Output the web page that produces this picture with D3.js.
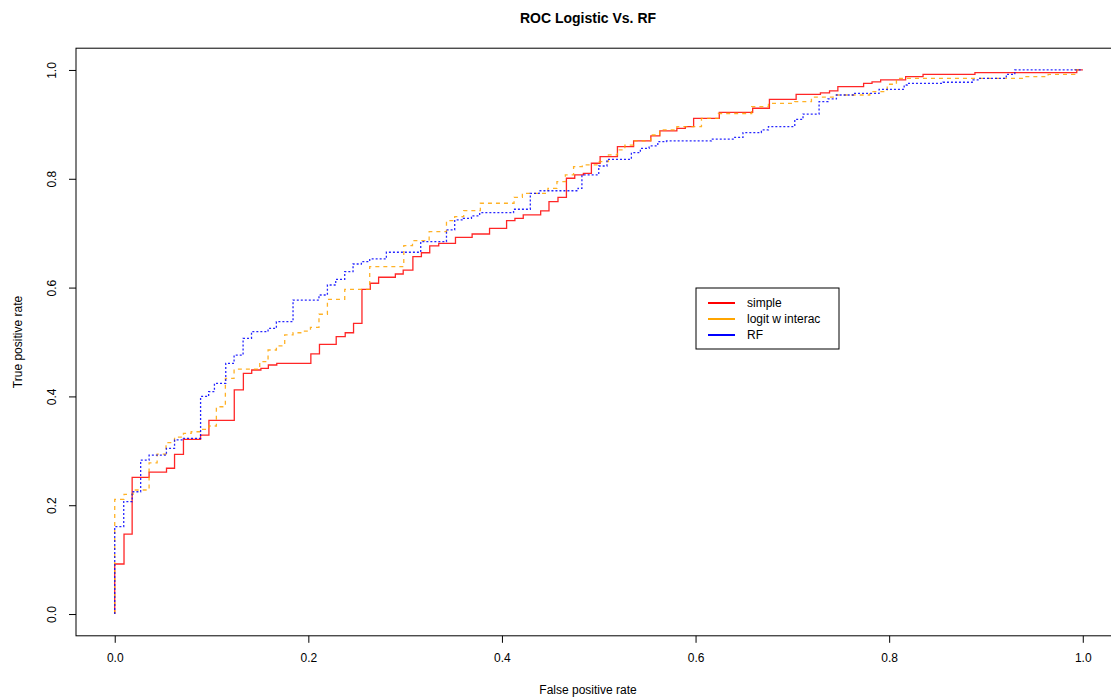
<!DOCTYPE html>
<html>
<head>
<meta charset="utf-8">
<script src="https://cdn.jsdelivr.net/npm/d3@7"></script>
<style>
  body { margin: 0; background: #fff; }
  svg text { font-family: "Liberation Sans", Arial, sans-serif; }
</style>
</head>
<body>
<svg width="1111" height="698"></svg>
<script>
// ROC curves, points are [fpr, tpr]
var simple = [[0,0],[0,0.092],[0.0096,0.147],[0.018,0.251],[0.0355,0.261],[0.0535,0.268],[0.0618,0.2935],[0.071,0.321],[0.0887,0.329],[0.0973,0.356],[0.1235,0.412],[0.1329,0.4425],[0.1415,0.4485],[0.151,0.4515],[0.1587,0.4577],[0.1674,0.4608],[0.2026,0.478],[0.2115,0.4957],[0.2288,0.5098],[0.2381,0.517],[0.2467,0.5343],[0.2554,0.5968],[0.264,0.608],[0.2726,0.619],[0.2899,0.625],[0.298,0.632],[0.308,0.657],[0.3168,0.664],[0.3254,0.6765],[0.3347,0.6814],[0.352,0.6924],[0.3692,0.6985],[0.3872,0.709],[0.4048,0.723],[0.4134,0.7273],[0.422,0.7335],[0.44,0.741],[0.4486,0.758],[0.4579,0.766],[0.4666,0.801],[0.4752,0.807],[0.4841,0.81],[0.4924,0.8285],[0.5014,0.8406],[0.5193,0.859],[0.536,0.8695],[0.5538,0.8787],[0.5631,0.8879],[0.5807,0.8928],[0.5894,0.8958],[0.598,0.911],[0.6245,0.9222],[0.659,0.9296],[0.6763,0.946],[0.7039,0.9553],[0.729,0.958],[0.7384,0.9614],[0.747,0.9693],[0.7736,0.9755],[0.7823,0.978],[0.7912,0.9816],[0.817,0.9877],[0.835,0.992],[0.8886,0.995],[0.9938,1.0],[1,1]];

var interac = [[0,0],[0,0.2108],[0.0096,0.22],[0.019,0.228],[0.0355,0.278],[0.0438,0.294],[0.053,0.315],[0.0618,0.325],[0.071,0.332],[0.079,0.335],[0.0887,0.3395],[0.0973,0.3456],[0.105,0.381],[0.1143,0.433],[0.1233,0.45],[0.1498,0.4638],[0.1584,0.4853],[0.167,0.493],[0.1756,0.513],[0.1842,0.517],[0.1939,0.52],[0.2022,0.527],[0.211,0.551],[0.2197,0.5785],[0.2376,0.5968],[0.2634,0.6385],[0.2986,0.677],[0.3076,0.6862],[0.3248,0.7028],[0.3427,0.723],[0.3512,0.7303],[0.3605,0.7414],[0.3777,0.755],[0.4125,0.766],[0.4211,0.7733],[0.4475,0.7825],[0.4568,0.7947],[0.4655,0.807],[0.474,0.8223],[0.483,0.8254],[0.5006,0.8315],[0.51,0.8438],[0.5193,0.853],[0.527,0.862],[0.536,0.8695],[0.5537,0.8805],[0.563,0.8897],[0.5807,0.8958],[0.6061,0.911],[0.6236,0.92],[0.658,0.9325],[0.6753,0.9387],[0.7025,0.9418],[0.7197,0.95],[0.7455,0.954],[0.78,0.9601],[0.798,0.9737],[0.8075,0.9847],[0.9384,0.9877],[0.9642,0.992],[0.9917,1.0],[1,1]];

var rf = [[0,0],[0,0.1605],[0.0093,0.2065],[0.018,0.2248],[0.0268,0.283],[0.0355,0.292],[0.0534,0.3045],[0.0618,0.32],[0.071,0.323],[0.0887,0.40],[0.097,0.4087],[0.103,0.424],[0.1147,0.4608],[0.1233,0.476],[0.1326,0.5068],[0.1413,0.519],[0.1584,0.525],[0.167,0.5373],[0.1842,0.577],[0.211,0.5864],[0.2197,0.6048],[0.2283,0.6152],[0.2376,0.6293],[0.2462,0.6434],[0.2548,0.6477],[0.2634,0.6526],[0.2806,0.665],[0.3161,0.6844],[0.3427,0.706],[0.3512,0.7243],[0.3598,0.7273],[0.3685,0.732],[0.377,0.7377],[0.412,0.744],[0.4293,0.7733],[0.4385,0.778],[0.4786,0.7825],[0.4826,0.807],[0.5,0.8235],[0.5085,0.8358],[0.5337,0.848],[0.543,0.856],[0.552,0.8603],[0.561,0.8682],[0.57,0.8695],[0.6164,0.873],[0.6405,0.876],[0.649,0.8848],[0.668,0.8897],[0.6753,0.8958],[0.7025,0.909],[0.711,0.919],[0.7276,0.9418],[0.7368,0.9467],[0.7455,0.954],[0.7627,0.957],[0.7896,0.9645],[0.8155,0.9724],[0.8186,0.9755],[0.8557,0.9774],[0.8867,0.9816],[0.8936,0.9847],[0.921,0.992],[0.9298,1.0],[1,1]];

var seriesNames = ["simple", "logit w interac", "RF"];
var seriesColors = ["#ff0000", "#ffa500", "#0000ff"];
var seriesDash = [null, "4,4", "2,2"];
var tickValues = [0, 0.2, 0.4, 0.6, 0.8, 1.0];

var svg = d3.select("svg");

// R style: 4% padding around the data range
var x = d3.scaleLinear().domain([-0.04, 1.04]).range([76, 1121.5]);
var y = d3.scaleLinear().domain([-0.04, 1.04]).range([635.8, 48.2]);

// plot box
svg.append("rect")
    .attr("x", x(-0.04)).attr("y", y(1.04))
    .attr("width", x(1.04) - x(-0.04)).attr("height", y(-0.04) - y(1.04))
    .attr("fill", "none").attr("stroke", "#000").attr("stroke-width", 1);

// x axis
var xAxis = svg.append("g")
    .attr("transform", "translate(0," + y(-0.04) + ")")
    .call(d3.axisBottom(x).tickValues(tickValues).tickFormat(d3.format(".1f")).tickSize(7).tickPadding(11));
xAxis.select(".domain").remove();
xAxis.selectAll("text").attr("font-size", 12).attr("fill", "#000")
    .attr("font-family", "Liberation Sans, Arial, sans-serif");

// y axis with rotated labels
var yAxis = svg.append("g")
    .attr("transform", "translate(" + x(-0.04) + ",0)")
    .call(d3.axisLeft(y).tickValues(tickValues).tickFormat(d3.format(".1f")).tickSize(7));
yAxis.select(".domain").remove();
yAxis.selectAll("text")
    .attr("font-size", 12).attr("fill", "#000")
    .attr("font-family", "Liberation Sans, Arial, sans-serif")
    .attr("x", null).attr("dy", null)
    .attr("text-anchor", "middle")
    .attr("transform", "translate(-20,0) rotate(-90)");

// titles
svg.append("text")
    .attr("x", 588).attr("y", 23)
    .attr("text-anchor", "middle")
    .attr("font-size", 14).attr("font-weight", "bold")
    .text("ROC Logistic Vs. RF");

svg.append("text")
    .attr("x", 588).attr("y", 694)
    .attr("text-anchor", "middle")
    .attr("font-size", 12)
    .text("False positive rate");

svg.append("text")
    .attr("transform", "translate(22,342) rotate(-90)")
    .attr("text-anchor", "middle")
    .attr("font-size", 12)
    .text("True positive rate");

// curves
var line = d3.line()
    .x(function(d) { return x(d[0]); })
    .y(function(d) { return y(d[1]); })
    .curve(d3.curveStepAfter);

[simple, interac, rf].forEach(function(data, i) {
    svg.append("path")
        .datum(data)
        .attr("fill", "none")
        .attr("stroke", seriesColors[i])
        .attr("stroke-width", 1.3)
        .attr("stroke-opacity", 0.85)
        .attr("stroke-dasharray", seriesDash[i])
        .attr("d", line);
});

// legend
var legend = svg.append("g").attr("transform", "translate(696,288)");
legend.append("rect")
    .attr("width", 143).attr("height", 61)
    .attr("fill", "#fff").attr("stroke", "#000");
seriesNames.forEach(function(name, i) {
    var ly = 15 + i * 16;
    legend.append("line")
        .attr("x1", 12).attr("x2", 39)
        .attr("y1", ly).attr("y2", ly)
        .attr("stroke", seriesColors[i]).attr("stroke-width", 2);
    legend.append("text")
        .attr("x", 51).attr("y", ly + 4)
        .attr("font-size", 12)
        .text(name);
});
</script>
</body>
</html>
